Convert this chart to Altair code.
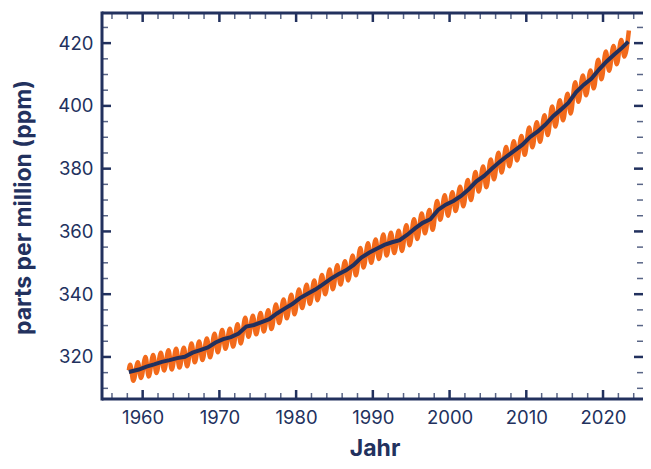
import altair as alt
import pandas as pd

# ---- data (Mauna Loa CO2, ppm) ----
years = list(range(1958, 2024))
# seasonal maxima (around May) and minima (around Sep/Oct)
peak = [317.5, 318.3, 320.0, 320.6, 321.3, 322.1, 322.6, 322.9, 324.3, 324.9,
        325.9, 327.4, 328.6, 329.0, 330.4, 332.5, 333.1, 334.0, 334.9, 336.7,
        338.3, 339.8, 341.5, 343.0, 344.4, 346.1, 347.9, 349.2, 350.5, 352.3,
        354.7, 356.2, 357.4, 359.0, 359.6, 360.2, 362.0, 363.9, 365.7, 366.8,
        369.7, 371.5, 372.5, 374.2, 376.4, 378.9, 380.7, 382.9, 385.1, 386.9,
        388.7, 390.4, 393.1, 394.8, 397.0, 399.8, 401.8, 403.9, 407.5, 409.7,
        411.3, 414.7, 417.3, 419.1, 421.0, 424.0]
trough = [312.4, 313.3, 313.8, 314.9, 315.7, 316.0, 316.6, 317.0, 318.3, 319.0,
          319.9, 321.5, 322.6, 323.3, 324.3, 326.4, 327.2, 328.1, 328.9, 330.8,
          332.3, 333.6, 335.6, 336.9, 338.1, 340.0, 341.6, 343.1, 344.4, 346.0,
          348.5, 350.0, 351.2, 352.3, 353.1, 353.8, 355.6, 357.6, 359.4, 360.5,
          363.7, 365.0, 366.5, 368.0, 370.0, 372.7, 374.1, 376.6, 378.8, 380.8,
          382.6, 384.4, 386.8, 388.6, 390.7, 393.4, 395.4, 397.6, 401.3, 403.4,
          405.6, 408.5, 411.2, 413.3, 415.7]
first_month = (1958.2, 315.7)

# deseasonalised trend (annual)
trend_x = [1958.2] + [y + 0.5 for y in range(1959, 2023)] + [2023.3]
trend_y = [315.2, 315.98, 316.91, 317.64, 318.45, 318.99, 319.62, 320.04, 321.37,
           322.18, 323.05, 324.62, 325.68, 326.32, 327.46, 329.68, 330.19, 331.13,
           332.03, 333.84, 335.41, 336.84, 338.76, 340.12, 341.48, 343.15, 344.87,
           346.35, 347.61, 349.31, 351.69, 353.20, 354.45, 355.70, 356.54, 357.21,
           358.96, 360.97, 362.74, 363.88, 366.84, 368.54, 369.71, 371.32, 373.45,
           375.98, 377.70, 379.98, 382.09, 384.02, 385.83, 387.64, 390.10, 391.85,
           394.06, 396.74, 398.81, 401.01, 404.41, 406.76, 408.72, 411.66, 414.24,
           416.45, 418.56, 420.5]

x_labels = [1960, 1970, 1980, 1990, 2000, 2010, 2020]
x_minor = [1956, 1958, 1962, 1964, 1966, 1968, 1972, 1974, 1976, 1978, 1982, 1984,
           1986, 1988, 1992, 1994, 1996, 1998, 2002, 2004, 2006, 2008, 2012, 2014,
           2016, 2018, 2022, 2024]
y_labels = [320, 340, 360, 380, 400, 420]
y_minor = [310, 315, 325, 330, 335, 345, 350, 355, 365, 370, 375, 385, 390, 395,
           405, 410, 415, 425]

# ---- build tables ----
rows = [{"x": first_month[0], "y": first_month[1]}]
for i, yr in enumerate(years):
    rows.append({"x": yr + 0.37, "y": peak[i]})
    if i < len(trough):
        rows.append({"x": yr + 0.79, "y": trough[i]})
monthly = pd.DataFrame(rows)
trend = pd.DataFrame({"x": trend_x, "y": trend_y})

NAVY = "#22315e"
ORANGE = "#f26a1b"
W, H = 541, 386
FONT = "Inter"

xscale = alt.Scale(domain=[1954.7, 2025.21], nice=False, zero=False)
yscale = alt.Scale(domain=[306.6, 429.6], nice=False, zero=False)
X = alt.X("x:Q", scale=xscale, title="Jahr",
          axis=alt.Axis(values=x_labels, format="d", ticks=False, domain=False,
                        grid=False, labelPadding=9,
                        titleX=W / 2 + 2, titleY=56, titleBaseline="alphabetic",
                        titleAlign="center"))
Y = alt.Y("y:Q", scale=yscale, title="parts per million (ppm)",
          axis=alt.Axis(values=y_labels, ticks=False, domain=False, grid=False,
                        labelPadding=9, titleX=-72, titleY=H / 2 + 1,
                        titleBaseline="alphabetic", titleAlign="center",
                        titleAngle=270))

orange = alt.Chart(monthly).mark_line(color=ORANGE, strokeWidth=4.5,
                                      interpolate="monotone").encode(x=X, y=Y)
navy = alt.Chart(trend).mark_line(color=NAVY, strokeWidth=4).encode(x=X, y=Y)

ymaj = pd.DataFrame({"y": y_labels})
ymin = pd.DataFrame({"y": y_minor})
xmaj = pd.DataFrame({"x": x_labels})
xmin = pd.DataFrame({"x": x_minor})

def yticks(df, ln, w, op):
    m = alt.Chart(df).mark_rule(color=NAVY, strokeWidth=w, opacity=op)
    return (m.encode(y=Y, x=alt.value(0), x2=alt.value(ln)) +
            m.encode(y=Y, x=alt.value(W - ln), x2=alt.value(W)))

def xticks(df, ln, w, op):
    m = alt.Chart(df).mark_rule(color=NAVY, strokeWidth=w, opacity=op)
    return (m.encode(x=X, y=alt.value(H - ln), y2=alt.value(H)) +
            m.encode(x=X, y=alt.value(0), y2=alt.value(ln)))

spine_df = pd.DataFrame({"k": [0]})
sp = alt.Chart(spine_df).mark_rule(color=NAVY, strokeWidth=3)
spines = (sp.encode(x=alt.value(0), y=alt.value(-1.5), y2=alt.value(H + 1.5)) +
          sp.encode(y=alt.value(0), x=alt.value(0), x2=alt.value(W + 5)) +
          sp.encode(y=alt.value(H), x=alt.value(0), x2=alt.value(W + 5)))

chart = alt.layer(
    orange, navy,
    yticks(ymaj, 9, 2.5, 1.0), yticks(ymin, 6, 1.5, 0.75),
    xticks(xmaj, 9, 2.5, 1.0), xticks(xmin, 6, 1.5, 0.75),
    spines,
).properties(
    width=W, height=H,
    autosize=alt.AutoSizeParams(type="none"),
    padding={"left": 94, "top": 5, "right": 0, "bottom": 62},
    background="white",
).configure_view(stroke=None).configure_axis(
    labelFont=FONT, labelFontSize=18.5, labelColor=NAVY,
    titleFont=FONT, titleFontSize=23, titleFontWeight="bold", titleColor=NAVY,
)

chart.save("out.html", embed_options={"renderer": "svg", "actions": False})
